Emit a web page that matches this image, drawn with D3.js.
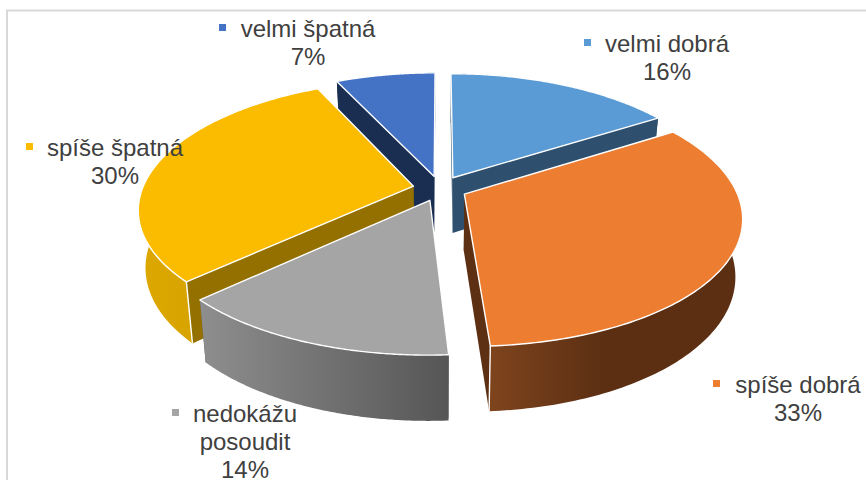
<!DOCTYPE html>
<html>
<head>
<meta charset="utf-8">
<script src="https://cdn.jsdelivr.net/npm/d3@7"></script>
<style>
html,body{margin:0;padding:0;background:#fff;overflow:hidden}
svg{display:block}
text{font-family:"Liberation Sans",Arial,sans-serif;font-size:24px;fill:#404040}
</style>
</head>
<body>
<div id="chart"></div>
<script>
const categories = ["velmi dobrá", "spíše dobrá", "nedokážu posoudit", "spíše špatná", "velmi špatná"];
const shares = [16, 33, 14, 30, 7];

const topColors = ["#5B9BD5", "#EC7D31", "#A5A5A5", "#FBBC00", "#4472C4"];
const cutColors = ["#2E4F6E", "#5E3013", "#5A5A5A", "#937000", "#1A2E52"];
const wallFrom  = ["#2E4F6E", "#7E441D", "#8E8E8E", "#DDA800", "#1A2E52"];
const wallTo    = ["#2E4F6E", "#5C2F13", "#565656", "#C99800", "#1A2E52"];
const paintOrder = [4, 0, 3, 1, 2];

// label anchors: text centre x, first baseline y, marker left x
const labelCx   = [667, 798, 245, 115, 308];
const labelY    = [52, 393, 422, 156, 37];
const markerX   = [584, 713, 172, 26, 219];
const wrapLabel = [false, false, true, false, false];

const W = 866, H = 480;
const cx = 440, cy = 188.5, explode = 0.1;
const viewD = 6, horizon = 748, radiusX = 271, depthPx = 56, shrink = 0.024;

const svg = d3.select("#chart").append("svg").attr("width", W).attr("height", H);
const defs = svg.append("defs");

// chart frame
svg.append("rect").attr("x", 7).attr("y", 10.5).attr("width", W + 20).attr("height", H + 20)
  .attr("fill", "#fff").attr("stroke", "#D9D9D9").attr("stroke-width", 2);

const pie = d3.pie().sort(null).value(d => d);
const arcs = pie(shares);

const xScale = d3.scaleLinear().domain([-1, 1]).range([cx - radiusX, cx + radiusX]);
const yScale = d3.scaleLinear().domain([0, 1]).range([cy, cy + horizon]);

// world -> screen. u: right, v: away from the viewer, z: 0 on top, 1 on the base
function project(u, v, z) {
  const s = viewD / (viewD + v);
  const k = 1 - shrink * z;
  return [
    cx + (xScale(u * Math.pow(s, 1.05)) - cx) * k,
    yScale(s - 1) + z * depthPx * Math.pow(s, 0.8)
  ];
}
const line = d3.line();

arcs.forEach(a => {
  a.mid = (a.startAngle + a.endAngle) / 2;
  a.ox = explode * Math.sin(a.mid);
  a.oy = explode * Math.cos(a.mid);
});
const rim = (a, t, z) => {
  const th = a.startAngle + (a.endAngle - a.startAngle) * t;
  return project(a.ox + Math.sin(th), a.oy + Math.cos(th), z);
};
const apex = (a, z) => project(a.ox, a.oy, z);
const samples = d3.range(0, 121).map(i => i / 120);

paintOrder.forEach(i => {
  const a = arcs[i];
  const g = svg.append("g").attr("class", "slice");
  const topArc = samples.map(t => rim(a, t, 0));
  const baseArc = samples.map(t => rim(a, t, 1));
  const xs = topArc.concat(baseArc).map(p => p[0]);

  const gid = "wall" + i;
  const lg = defs.append("linearGradient").attr("id", gid)
    .attr("gradientUnits", "userSpaceOnUse")
    .attr("x1", d3.min(xs)).attr("x2", d3.max(xs)).attr("y1", 0).attr("y2", 0);
  lg.append("stop").attr("offset", 0).attr("stop-color", wallFrom[i]);
  lg.append("stop").attr("offset", i === 1 ? 0.45 : 1).attr("stop-color", wallTo[i]);

  const edge = {stroke: "#fff", "stroke-width": 1.4, "stroke-linejoin": "round"};
  const paint = (sel) => { Object.entries(edge).forEach(([k, v]) => sel.attr(k, v)); return sel; };

  // cut faces
  [0, 1].forEach(t => {
    const poly = [apex(a, 0), rim(a, t, 0), rim(a, t, 1), apex(a, 1)];
    paint(g.append("path").attr("d", line(poly) + "Z").attr("fill", cutColors[i]))
      .attr("stroke", "none");
  });
  // outer wall
  paint(g.append("path").attr("d", line(topArc.concat(baseArc.slice().reverse())) + "Z")
    .attr("fill", `url(#${gid})`)).attr("stroke", "none");
  // corner edges between wall and cut faces
  [0, 1].forEach(t => {
    const visible = (i === 3 && t === 0) || (i === 1 && t === 1);
    if (visible) paint(g.append("path").attr("d", line([rim(a, t, 0), rim(a, t, 1)])).attr("fill", "none"));
  });
  // top face
  paint(g.append("path").attr("d", line([apex(a, 0)].concat(topArc)) + "Z").attr("fill", topColors[i]));
});

// labels
categories.forEach((c, i) => {
  const lines = (wrapLabel[i] ? c.split(" ") : [c]).concat(shares[i] + "%");
  const g = svg.append("g").attr("class", "label");
  g.append("rect").attr("x", markerX[i]).attr("y", labelY[i] - 13)
    .attr("width", 7).attr("height", 7).attr("fill", topColors[i]);
  lines.forEach((t, j) => {
    g.append("text").attr("x", labelCx[i]).attr("y", labelY[i] + j * 28)
      .attr("text-anchor", "middle").text(t);
  });
});
</script>
</body>
</html>
